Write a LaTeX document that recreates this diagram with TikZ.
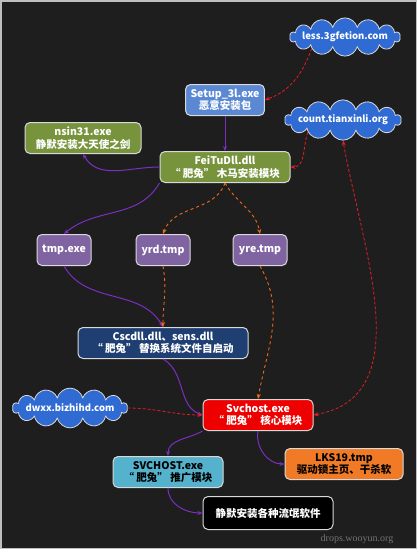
\documentclass[tikz,border=0pt]{standalone}
\usepackage{fontspec}
\setmainfont{Noto Sans CJK SC}
\newfontfamily\wmfont{Liberation Serif}
\usetikzlibrary{shapes.symbols,arrows.meta}
\definecolor{bgdark}{HTML}{1E1E1E}
\definecolor{cloudblue}{HTML}{2F6BD3}
\definecolor{setupblue}{HTML}{5B88D2}
\definecolor{olivegreen}{HTML}{77933C}
\definecolor{lavender}{HTML}{8064A2}
\definecolor{navyblue}{HTML}{1F3F73}
\definecolor{alertred}{HTML}{EE0000}
\definecolor{tangerine}{HTML}{F07A26}
\definecolor{skyblue}{HTML}{55B2CC}
\definecolor{edgepurple}{HTML}{7A2FC0}
\definecolor{edgeorange}{HTML}{F06A1A}
\definecolor{edgered}{HTML}{E41E28}
\tikzset{
  every node/.append style={font=\fontsize{10.5}{12.5}\selectfont\bfseries, text=white},
  modbox/.style={
    draw=white!85!black, line width=1pt, rounded corners=5pt,
    align=center, inner xsep=5pt, inner ysep=2.5pt, minimum height=31pt
  },
  webcloud/.style={
    cloud, cloud puffs=14, aspect=5.5, draw=white!85!black, line width=0.8pt,
    fill=cloudblue, inner xsep=-4pt, inner ysep=-3pt,
    font=\fontsize{9.5}{11}\selectfont\bfseries
  },
  calls/.style={edgepurple, line width=1pt, -{Stealth[length=5pt,width=4pt]}},
  drops/.style={edgeorange, line width=0.9pt, dashed, -{Stealth[length=5pt,width=4pt]}},
  fetch/.style={edgered, line width=0.8pt, dash pattern=on 3pt off 2pt, -{Stealth[length=5pt,width=4pt]}}
}
\begin{document}
\begin{tikzpicture}[x=1pt,y=-1pt]
\fill[bgdark, draw=white!75!black, line width=1.5pt] (0.75,0.75) rectangle (416.25,548.25);
\useasboundingbox (0,0) rectangle (417,549);

% domains
\node[webcloud] (less) at (345,37) {less.3gfetion.com};
\node[webcloud] (count) at (343,120) {count.tianxinli.org};
\node[webcloud] (dwxx) at (70,408) {dwxx.bizhihd.com};

% modules
\node[modbox, fill=setupblue, minimum width=74pt] (setup) at (225,100) {Setup\_3l.exe\\恶意安装包};
\node[modbox, fill=olivegreen, minimum width=116pt] (nsin) at (83,138) {nsin31.exe\\静默安装大天使之剑};
\node[modbox, fill=olivegreen, minimum width=130pt] (feitu) at (225,167) {FeiTuDll.dll\\“ 肥兔” 木马安装模块};
\node[modbox, fill=lavender, minimum width=54pt] (tmpexe) at (64,250) {tmp.exe};
\node[modbox, fill=lavender, minimum width=54pt] (yrd) at (163,250) {yrd.tmp};
\node[modbox, fill=lavender, minimum width=54pt] (yre) at (260,250) {yre.tmp};
\node[modbox, fill=navyblue, minimum width=170pt] (cscdll) at (163,343) {Cscdll.dll、sens.dll\\“ 肥兔” 替换系统文件自启动};
\node[modbox, fill=alertred, minimum width=110pt] (svchost) at (258,415) {Svchost.exe\\“ 肥兔” 核心模块};
\node[modbox, fill=tangerine, minimum width=118pt, text=black] (lks) at (344,464) {LKS19.tmp\\驱动锁主页、干杀软};
\node[modbox, fill=skyblue, minimum width=110pt, text=black] (svcbig) at (168,472) {SVCHOST.exe\\“ 肥兔” 推广模块};
\node[modbox, fill=black, minimum width=130pt, minimum height=33pt] (liumang) at (268,513) {静默安装各种流氓软件};

\node[font=\wmfont\fontsize{10}{12}\selectfont, text=white!45!black] (mark) at (357,539) {drops.wooyun.org};

% connectors
\draw[fetch] (less.south west) to[out=-110,in=20] (setup.east);
\draw[calls] (setup) -- (feitu);
\draw[calls] (feitu.west) to[out=180,in=-60] (nsin.south);
\draw[calls] (feitu.south west) to[out=-120,in=40] (tmpexe.north);
\draw[drops] (feitu.south) to[out=-110,in=70] (yrd.north);
\draw[drops] (feitu.south) to[out=-60,in=100] (yre.north);
\draw[fetch] (count.south west) to[out=-110,in=0] (feitu.east);
\draw[fetch, {Stealth[length=5pt,width=4pt]}-{Stealth[length=5pt,width=4pt]}] (svchost.east) to[out=10,in=-80] (count.south);
\draw[calls] (tmpexe.south) to[out=-60,in=120] (cscdll.north);
\draw[drops] (yrd.south) to[out=-80,in=90] (cscdll.north);
\draw[calls] (cscdll.south) to[out=-30,in=160] (svchost.west);
\draw[drops] (yre.south) to[out=-60,in=80] (svchost.north);
\draw[fetch] (dwxx.east) to[out=0,in=180] (svchost.west);
\draw[calls] (svchost.south west) to[out=-150,in=90] (svcbig.north);
\draw[calls] (svchost.south) to[out=-100,in=180] (lks.west);
\draw[calls] (svcbig.south) to[out=-90,in=180] (liumang.west);
\end{tikzpicture}
\end{document}
